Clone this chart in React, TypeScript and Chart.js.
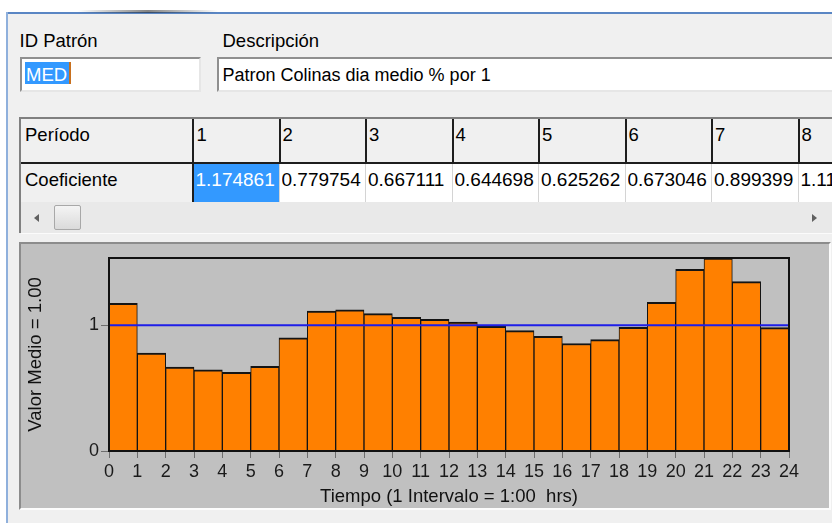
import React, { useEffect, useRef } from "react";
import { Chart, registerables } from "chart.js";

Chart.register(...registerables);

// ---------- data ----------
const PATTERN_ID = "MED";
const DESCRIPTION = "Patron Colinas dia medio % por 1";
const LABEL_ID = "ID Patrón";
const LABEL_DESC = "Descripción";
const ROW_PERIOD = "Período";
const ROW_COEF = "Coeficiente";
const PERIODS = [1, 2, 3, 4, 5, 6, 7, 8, 9, 10, 11, 12, 13, 14, 15, 16, 17, 18, 19, 20, 21, 22, 23, 24];
const COEF = [
  1.174861, 0.779754, 0.667111, 0.644698, 0.625262, 0.673046, 0.899399, 1.112,
  1.122, 1.092, 1.063, 1.047, 1.026, 0.992, 0.957, 0.912, 0.855, 0.886,
  0.984, 1.182, 1.445, 1.535, 1.347, 0.981,
];
const HOUR_TICKS = [0, 1, 2, 3, 4, 5, 6, 7, 8, 9, 10, 11, 12, 13, 14, 15, 16, 17, 18, 19, 20, 21, 22, 23, 24];
const Y_TICKS = [0, 1];
const MEAN = 1.0;
const Y_TITLE = "Valor Medio = 1.00";
const X_TITLE = "Tiempo (1 Intervalo = 1:00  hrs)";
const VISIBLE_COLS = 8;

// ---------- styles ----------
const FONT = '"Liberation Sans", Arial, sans-serif';

function Txt(props: any) {
  const { x, base, size = 18.5, color = "#000", children, width } = props;
  const lh = Math.round(size * 1.2);
  const top = base - (lh / 2 + 0.3465 * size);
  return (
    <div
      style={{
        position: "absolute",
        left: x,
        top,
        width,
        overflow: width ? "hidden" : undefined,
        fontSize: size,
        lineHeight: lh + "px",
        fontFamily: FONT,
        color,
        whiteSpace: "pre",
      }}
    >
      {children}
    </div>
  );
}

function Box(props: any) {
  const { x, y, w, h, style } = props;
  return (
    <div
      style={{
        position: "absolute",
        left: x,
        top: y,
        width: w,
        height: h,
        boxSizing: "border-box",
        ...style,
      }}
    />
  );
}

const framePlugin = {
  id: "frame",
  afterDatasetsDraw(chart: any) {
    const { ctx, chartArea } = chart;
    ctx.save();
    ctx.strokeStyle = "#111";
    ctx.lineWidth = 2;
    ctx.strokeRect(chartArea.left, chartArea.top, chartArea.right - chartArea.left, chartArea.bottom - chartArea.top);
    ctx.restore();
  },
};

function PatternChart() {
  const ref = useRef<HTMLCanvasElement | null>(null);
  useEffect(() => {
    if (!ref.current) return;
    const yMax = Math.max(...COEF);
    const chart = new Chart(ref.current, {
      type: "bar",
      data: {
        datasets: [
          {
            type: "line",
            data: [
              { x: HOUR_TICKS[0], y: MEAN },
              { x: HOUR_TICKS[HOUR_TICKS.length - 1], y: MEAN },
            ],
            borderColor: "#1e1ee8",
            borderWidth: 2,
            pointRadius: 0,
            order: 0,
          } as any,
          {
            type: "bar",
            data: PERIODS.map((p, i) => ({ x: p - 0.5, y: COEF[i] })),
            backgroundColor: "#ff8000",
            borderColor: "#141414",
            borderWidth: { top: 2, left: 1, right: 1, bottom: 0 },
            borderSkipped: false,
            barPercentage: 1,
            categoryPercentage: 1,
            order: 1,
          } as any,
        ],
      },
      options: {
        responsive: false,
        animation: false,
        events: [],
        layout: { padding: { left: 0, top: 14, right: 38, bottom: 0 } },
        plugins: { legend: { display: false }, tooltip: { enabled: false } },
        scales: {
          x: {
            type: "linear",
            min: 0,
            max: 24,
            offset: false,
            afterBuildTicks: (s: any) => {
              s.ticks = HOUR_TICKS.map((v) => ({ value: v }));
            },
            afterFit: (s: any) => {
              s.height = 55;
            },
            ticks: {
              autoSkip: false,
              maxRotation: 0,
              padding: 3,
              color: "#1a1a1a",
              font: { family: FONT, size: 18 },
              callback: (v: any) => String(v),
            },
            grid: { display: true, offset: false, drawOnChartArea: false, drawTicks: true, tickLength: 7, color: "#6e6e6e", lineWidth: 1 },
            border: { display: false },
            title: {
              display: true,
              text: X_TITLE,
              color: "#111",
              font: { family: FONT, size: 18.5, lineHeight: 1 },
              padding: { top: 0, bottom: 0 },
            },
          },
          y: {
            type: "linear",
            min: 0,
            max: yMax,
            afterBuildTicks: (s: any) => {
              s.ticks = Y_TICKS.map((v) => ({ value: v }));
            },
            afterFit: (s: any) => {
              s.width = 88;
            },
            ticks: {
              padding: 2,
              color: "#1a1a1a",
              font: { family: FONT, size: 18 },
              callback: (v: any) => String(v),
            },
            grid: { display: true, drawOnChartArea: false, drawTicks: true, tickLength: 8, color: "#6e6e6e", lineWidth: 1 },
            border: { display: false },
            title: {
              display: true,
              text: Y_TITLE,
              color: "#111",
              font: { family: FONT, size: 18.5 },
              padding: { top: 4, bottom: 4 },
            },
          },
        },
      } as any,
      plugins: [framePlugin],
    });
    return () => chart.destroy();
  }, []);
  return (
    <canvas
      ref={ref}
      width={806}
      height={262}
      style={{ position: "absolute", left: 21, top: 244, width: 806, height: 262 }}
    />
  );
}

export default function App() {
  const COLW = 86.5;
  const SEP0 = 192;
  const cols = PERIODS.slice(0, VISIBLE_COLS);
  return (
    <div
      style={{
        position: "fixed",
        left: 0,
        top: 0,
        width: 832,
        height: 523,
        overflow: "hidden",
        background: "#ffffff",
        fontFamily: FONT,
      }}
    >
      {/* window frame */}
      <Box x={8} y={14} w={824} h={509} style={{ background: "#f0f0f0" }} />
      <Box x={6} y={12} w={826} h={2} style={{ background: "#5a86c4" }} />
      <Box x={6} y={12} w={2} h={511} style={{ background: "#8fb0dc" }} />
      <Box x={78} y={10} w={140} h={3} style={{ background: "linear-gradient(to right, rgba(30,30,30,0), rgba(30,30,30,0.55), rgba(30,30,30,0))" }} />

      {/* labels + inputs */}
      <Txt x={19.5} base={47.7}>{LABEL_ID}</Txt>
      <Txt x={222.5} base={47.7}>{LABEL_DESC}</Txt>

      <Box
        x={20}
        y={57}
        w={181}
        h={35}
        style={{
          background: "#fff",
          borderTop: "2px solid #8f8f8f",
          borderLeft: "2px solid #8f8f8f",
          borderBottom: "2px solid #e6e6e6",
          borderRight: "2px solid #e6e6e6",
        }}
      />
      <Box x={25} y={62} w={44} h={22} style={{ background: "#3399ff" }} />
      <Txt x={26} base={81.3} color="#fff">{PATTERN_ID}</Txt>
      <Box x={69} y={62} w={1.5} h={22} style={{ background: "#c8701e" }} />

      <Box
        x={217}
        y={57}
        w={640}
        h={35}
        style={{
          background: "#fff",
          borderTop: "2px solid #8f8f8f",
          borderLeft: "2px solid #8f8f8f",
          borderBottom: "2px solid #e6e6e6",
        }}
      />
      <Txt x={222.5} base={81.5} size={18}>{DESCRIPTION}</Txt>

      {/* grid */}
      <Box x={19} y={117} w={820} h={2} style={{ background: "#808080" }} />
      <Box x={19} y={117} w={2} h={116} style={{ background: "#808080" }} />
      <Box x={21} y={119} w={815} h={44} style={{ background: "#f0f0f0" }} />
      <Box x={21} y={162} w={815} h={2} style={{ background: "#1e1e1e" }} />
      <Box x={21} y={164} w={171} h={38} style={{ background: "#f0f0f0" }} />
      <Box x={194} y={164} w={640} h={38} style={{ background: "#ffffff" }} />
      <Box x={194} y={164} w={84.5} h={38} style={{ background: "#3399ff" }} />
      <Box x={SEP0} y={119} w={2} h={83} style={{ background: "#1e1e1e" }} />
      {cols.map((p, i) => {
        const sep = SEP0 + (i + 1) * COLW;
        return (
          <React.Fragment key={"c" + p}>
            <Box x={sep} y={119} w={2} h={44} style={{ background: "#1e1e1e" }} />
            <Box x={sep} y={164} w={1} h={38} style={{ background: "#d4d4d4" }} />
          </React.Fragment>
        );
      })}
      <Txt x={25} base={141.7}>{ROW_PERIOD}</Txt>
      <Txt x={25} base={186.8}>{ROW_COEF}</Txt>
      {cols.map((p, i) => {
        const left = SEP0 + i * COLW + (i === 0 ? 2 : 1.5);
        return (
          <React.Fragment key={"t" + p}>
            <Txt x={left + 2.5} base={141.7}>{String(p)}</Txt>
            <Txt x={left + 1.5} base={186.5} size={19} color={i === 0 ? "#fff" : "#000"} width={COLW - 3}>
              {COEF[i].toFixed(6)}
            </Txt>
          </React.Fragment>
        );
      })}
      {/* scrollbar */}
      <Box x={21} y={202} w={815} h={31} style={{ background: "#e9e9e9" }} />
      <div
        style={{
          position: "absolute",
          left: 34,
          top: 214,
          width: 0,
          height: 0,
          borderTop: "4px solid transparent",
          borderBottom: "4px solid transparent",
          borderRight: "5px solid #606060",
        }}
      />
      <Box
        x={54}
        y={205}
        w={27}
        h={25}
        style={{
          background: "linear-gradient(to bottom, #f4f4f4, #dadada)",
          border: "1px solid #a8a8a8",
          borderRadius: 2,
        }}
      />
      <div
        style={{
          position: "absolute",
          left: 812,
          top: 214,
          width: 0,
          height: 0,
          borderTop: "4px solid transparent",
          borderBottom: "4px solid transparent",
          borderLeft: "5px solid #606060",
        }}
      />
      <Box x={21} y={233} w={815} h={1} style={{ background: "#fbfbfb" }} />

      {/* chart panel */}
      <Box
        x={19}
        y={242}
        w={812}
        h={268}
        style={{
          background: "#c0c0c0",
          borderTop: "2px solid #8c8c8c",
          borderLeft: "2px solid #8c8c8c",
          borderBottom: "2px solid #fcfcfc",
          borderRight: "2px solid #fcfcfc",
        }}
      />
      <PatternChart />
    </div>
  );
}
